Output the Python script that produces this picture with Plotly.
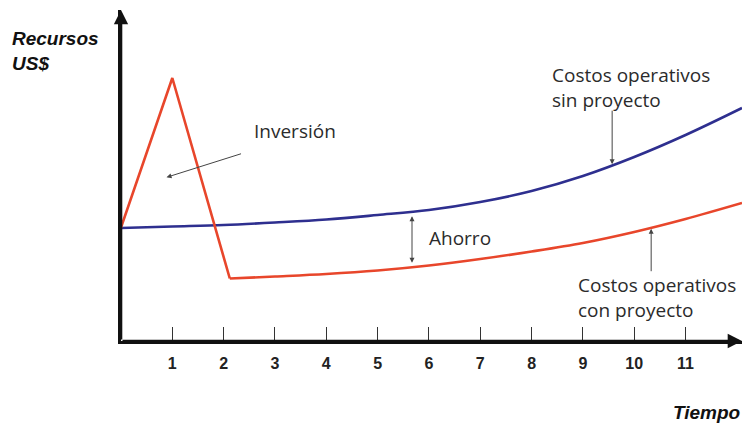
import numpy as np
import plotly.graph_objects as go

# Time axis (years) and resource levels (arbitrary US$ units)
years = [0, 1, 2, 3, 4, 5, 6, 7, 8, 9, 10, 11, 12.1]
cost_without_project = [11.3, 11.45, 11.6, 11.85, 12.15, 12.6, 13.1, 13.9, 15.0, 16.5, 18.4, 20.6, 23.3]

# Investment phase: initial spike, then drop to the new operating level
invest_years = [0, 1, 2.12]
invest_values = [11.35, 26.3, 6.25]

# Operating costs once the project is running
with_years = [2.12, 3, 4, 5, 6, 7, 8, 9, 10, 11, 12.1]
cost_with_project = [6.25, 6.45, 6.7, 7.05, 7.55, 8.2, 8.95, 9.8, 10.9, 12.2, 13.8]

tick_years = list(range(1, 12))
tick_text = [str(t) for t in tick_years]

X_MAX = 12.1
Y_MAX = 33.1

RED = "#E8462B"
BLUE = "#2E2F8F"
TEXT = "#2b2b2b"
LABEL_FONT = dict(family="Open Sans", size=19, color=TEXT)
TITLE_FONT = dict(family="Liberation Sans", size=19, color="#111")


def blue_at(x):
    return float(np.interp(x, years, cost_without_project))


def red_at(x):
    return float(np.interp(x, with_years, cost_with_project))


fig = go.Figure()

fig.add_trace(go.Scatter(
    x=years, y=cost_without_project, mode="lines",
    line=dict(color=BLUE, width=2.6, shape="spline", smoothing=1.0),
    name="Costos operativos sin proyecto", hoverinfo="skip",
))
fig.add_trace(go.Scatter(
    x=invest_years, y=invest_values, mode="lines",
    line=dict(color=RED, width=2.6),
    name="Inversión", hoverinfo="skip",
))
fig.add_trace(go.Scatter(
    x=with_years, y=cost_with_project, mode="lines",
    line=dict(color=RED, width=2.6, shape="spline", smoothing=1.0),
    name="Costos operativos con proyecto", hoverinfo="skip",
))

annotations = []

# Axis arrowheads
annotations.append(dict(x=0, y=Y_MAX, ax=0, ay=0, xref="x", yref="y", axref="x", ayref="y",
                        showarrow=True, arrowhead=2, arrowsize=1.1, arrowwidth=2.6,
                        arrowcolor="#111", text=""))
annotations.append(dict(x=X_MAX, y=0, ax=0, ay=0, xref="x", yref="y", axref="x", ayref="y",
                        showarrow=True, arrowhead=2, arrowsize=1.1, arrowwidth=2.6,
                        arrowcolor="#111", text=""))

# Axis titles (placed in paper space, outside the plotting area)
annotations.append(dict(x=-0.179, y=0.952, xref="paper", yref="paper", xanchor="left", yanchor="top",
                        text="<b><i>Recursos<br>US$</i></b>", showarrow=False, align="left",
                        font=TITLE_FONT))
annotations.append(dict(x=1.0, y=-0.215, xref="paper", yref="paper", xanchor="right", yanchor="middle",
                        text="<b><i>Tiempo</i></b>", showarrow=False, font=TITLE_FONT))

# Investment label with pointer
annotations.append(dict(x=2.56, y=21.0, xref="x", yref="y", xanchor="left", yanchor="middle",
                        text="Inversión", showarrow=False, font=LABEL_FONT))
annotations.append(dict(x=0.887, y=16.37, xref="x", yref="y", ax=76, ay=-24,
                        text="", showarrow=True, arrowhead=2, arrowsize=1, arrowwidth=1,
                        arrowcolor="#444"))

# Savings gap between the two cost curves
gap_x = 5.67
annotations.append(dict(x=gap_x, y=blue_at(gap_x) - 0.45, ax=gap_x, ay=red_at(gap_x) + 0.3,
                        xref="x", yref="y", axref="x", ayref="y",
                        text="", showarrow=True, arrowhead=2, startarrowhead=2,
                        arrowside="end+start", arrowsize=1, startarrowsize=1, arrowwidth=1,
                        arrowcolor="#444"))
annotations.append(dict(x=5.96, y=10.3, xref="x", yref="y", xanchor="left", yanchor="middle",
                        text="Ahorro", showarrow=False, font=LABEL_FONT))

# Curve labels with pointers
annotations.append(dict(x=8.36, y=28.1, xref="x", yref="y", xanchor="left", yanchor="top",
                        text="Costos operativos<br>sin proyecto", showarrow=False, align="left",
                        font=LABEL_FONT))
bx = 9.57
annotations.append(dict(x=bx, y=blue_at(bx) + 0.1, xref="x", yref="y", ax=0, ay=-55,
                        text="", showarrow=True, arrowhead=2, arrowsize=1, arrowwidth=1,
                        arrowcolor="#444"))

annotations.append(dict(x=8.87, y=7.1, xref="x", yref="y", xanchor="left", yanchor="top",
                        text="Costos operativos<br>con proyecto", showarrow=False, align="left",
                        font=LABEL_FONT))
rx = 10.33
annotations.append(dict(x=rx, y=red_at(rx) - 0.1, xref="x", yref="y", ax=0, ay=44,
                        text="", showarrow=True, arrowhead=2, arrowsize=1, arrowwidth=1,
                        arrowcolor="#444"))

fig.update_layout(
    width=742, height=425,
    margin=dict(l=121, r=0, t=10, b=84),
    paper_bgcolor="white", plot_bgcolor="white",
    showlegend=False,
    annotations=annotations,
    xaxis=dict(
        range=[0, X_MAX], showgrid=False, zeroline=False,
        showline=True, linecolor="#111", linewidth=2.6,
        tickmode="array", tickvals=tick_years, ticktext=tick_text,
        ticks="inside", ticklen=14, tickwidth=1.2, tickcolor="#333",
        ticklabelstandoff=6,
        tickfont=dict(family="Liberation Sans", size=16, color="#222", weight="bold"),
    ),
    yaxis=dict(
        range=[0, Y_MAX], showgrid=False, zeroline=False,
        showline=True, linecolor="#111", linewidth=2.6,
        showticklabels=False, ticks="",
    ),
)

fig.write_html("out.html")
